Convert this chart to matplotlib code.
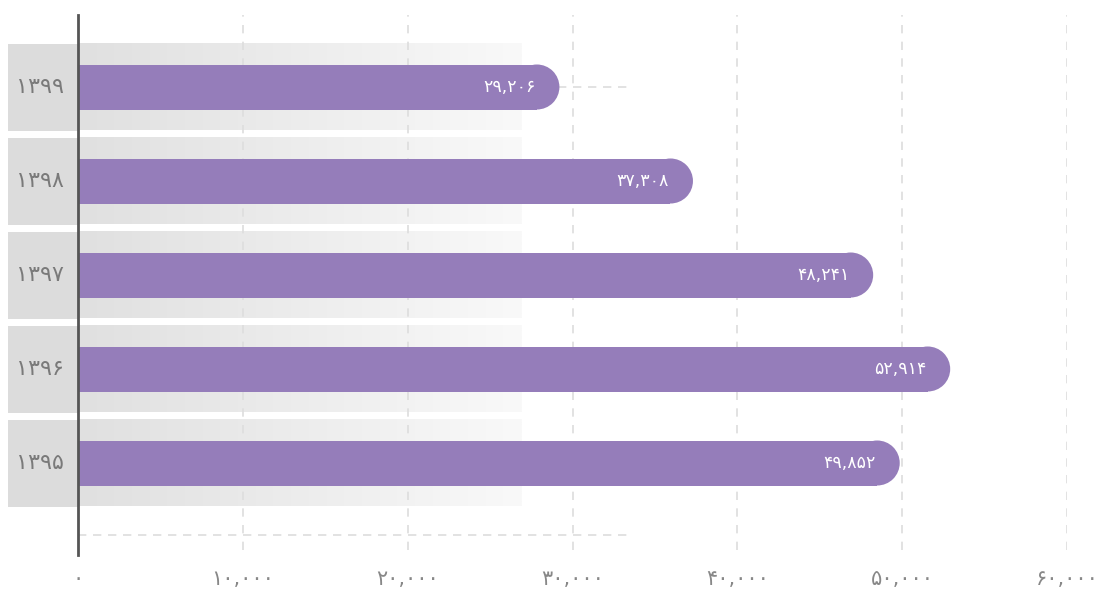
import matplotlib
matplotlib.use("Agg")
import matplotlib.pyplot as plt
import numpy as np
from matplotlib.patches import Rectangle, Ellipse

# ---- data ----
years = ["۱۳۹۹", "۱۳۹۸", "۱۳۹۷", "۱۳۹۶", "۱۳۹۵"]
values = [29206, 37308, 48241, 52914, 49852]
value_labels = ["۲۹,۲۰۶", "۳۷,۳۰۸", "۴۸,۲۴۱", "۵۲,۹۱۴", "۴۹,۸۵۲"]
x_ticks = [0, 10000, 20000, 30000, 40000, 50000, 60000]
x_tick_labels = ["۰", "۱۰,۰۰۰", "۲۰,۰۰۰", "۳۰,۰۰۰", "۴۰,۰۰۰", "۵۰,۰۰۰", "۶۰,۰۰۰"]

W, H = 1097, 592
fig = plt.figure(figsize=(W / 100, H / 100), dpi=100)
ax_left, ax_right, ax_top, ax_bot = 78, 1067, 15, 555
ax = fig.add_axes([ax_left / W, (H - ax_bot) / H, (ax_right - ax_left) / W, (ax_bot - ax_top) / H])

row_px = 94.0
c0 = 87.0
y_bottom = (ax_bot - c0) / row_px
y_top = (ax_top - c0) / row_px
ax.set_xlim(0, 60000)
ax.set_ylim(y_bottom, y_top)

px_per_unit = (ax_right - ax_left) / 60000.0

font = ["DejaVu Sans"]
bar_color = "#957dba"
n = len(years)
ypos = np.arange(n)

# horizontal dashed guide lines (behind bands)
hl_end = (628 - ax_left) / px_per_unit
for y in list(ypos) + [(535 - c0) / row_px]:
    ax.plot([0, hl_end], [y, y], color="#dddddd", lw=1.2, ls=(0, (5, 4)), zorder=0.5, clip_on=False)

# gradient bands
band_h = 87 / row_px
band_end = (522 - ax_left) / px_per_unit
box_left = (8 - ax_left) / px_per_unit
grad = np.linspace(0, 1, 256)
cmap = matplotlib.colors.LinearSegmentedColormap.from_list("g", ["#e0e0e0", "#f9f9f9"])
for i, y in enumerate(ypos):
    ax.imshow(grad[None, :], cmap=cmap, aspect="auto",
              extent=[0, band_end, y + band_h / 2, y - band_h / 2],
              zorder=1, interpolation="bilinear")
    ax.add_patch(Rectangle((box_left, y - band_h / 2), -box_left, band_h,
                           facecolor="#dcdcdc", edgecolor="none", zorder=1, clip_on=False))
    ax.annotate(years[i], xy=(box_left / 2, y), xytext=(-3, 0), textcoords="offset pixels",
                ha="center", va="center", fontsize=16,
                color="#7a7a7a", family=font, zorder=3, annotation_clip=False)

# vertical dashed grid lines
for xv in x_ticks[1:]:
    ax.axvline(xv, color="#dddddd", lw=1.2, ls=(0, (5, 5)), ymin=0.01, ymax=1, zorder=2)

# bars with rounded right end
bar_h_px = 45.0
bar_h = bar_h_px / row_px
r_units = (bar_h_px / 2) / px_per_unit
for i, (y, v) in enumerate(zip(ypos, values)):
    ax.add_patch(Rectangle((0, y - bar_h / 2), v - r_units, bar_h,
                           facecolor=bar_color, edgecolor="none", zorder=3))
    ax.add_patch(Ellipse((v - r_units, y), 2 * r_units, bar_h,
                         facecolor=bar_color, edgecolor="none", zorder=3))
    ax.annotate(value_labels[i], xy=(v, y), xytext=(-24, 0), textcoords="offset pixels",
                ha="right", va="center", color="white", fontsize=12.5, family=font, zorder=4)

# axis styling
for s in ["top", "right", "bottom"]:
    ax.spines[s].set_visible(False)
ax.spines["left"].set_color("#555555")
ax.spines["left"].set_linewidth(2)
ax.spines["left"].set_zorder(5)
ax.set_yticks([])
ax.set_xticks(x_ticks)
ax.set_xticklabels(x_tick_labels, family=font, fontsize=15, color="#888888")
ax.tick_params(axis="x", length=0, pad=10)
ax.set_facecolor("none")

fig.savefig("out.png", dpi=100, facecolor="white")
